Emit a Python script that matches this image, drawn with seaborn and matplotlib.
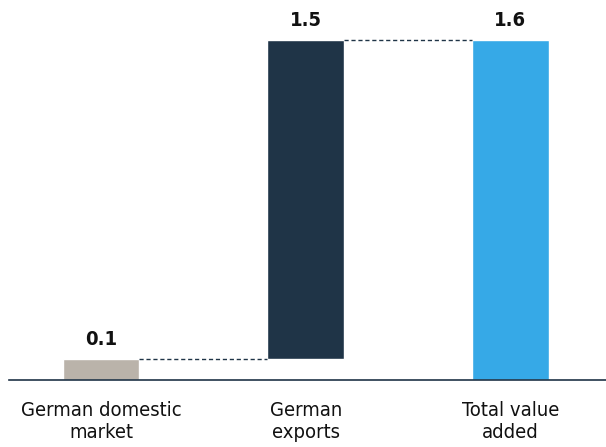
import matplotlib
matplotlib.use("Agg")
import matplotlib.pyplot as plt
import seaborn as sns
import pandas as pd

# Value-added contributions (waterfall)
categories = ["German domestic\nmarket", "German\nexports", "Total value\nadded"]
values = [0.1, 1.5, 1.6]
bases = [0.0, 0.1, 0.0]
labels = ["0.1", "1.5", "1.6"]
colors = ["#bab3aa", "#1f3447", "#36a9e7"]

sns.set_theme(style="white")
plt.rcParams["font.family"] = ["DejaVu Sans"]
plt.rcParams["font.stretch"] = "condensed"

df = pd.DataFrame({"category": categories, "value": values, "base": bases})

fig = plt.figure(figsize=(6.06, 4.47), dpi=100)
ax = fig.add_axes([0.015, 67 / 447, 0.985, 380 / 447])

# one call per bar so each can float on its own base
for i in range(len(df)):
    sns.barplot(data=df.iloc[[i]], x="category", y="value", order=categories,
                color=colors[i], saturation=1, bottom=bases[i], width=0.375, ax=ax)

ax.set_ylim(0, 1.788)
ax.set_xlim(-0.449, 2.467)
ax.set_xlabel("")
ax.set_ylabel("")
ax.set_yticks([])
for side in ["top", "right", "left"]:
    ax.spines[side].set_visible(False)
ax.spines["bottom"].set_color("#1f3447")
ax.spines["bottom"].set_linewidth(1.2)
ax.tick_params(axis="x", length=0, pad=15, labelsize=14.5, colors="#111111")
for t in ax.get_xticklabels():
    t.set_fontstretch("condensed")
    t.set_linespacing(1.22)

patches = sorted(ax.patches, key=lambda p: p.get_x())
for p, lab in zip(patches, labels):
    top = p.get_y() + p.get_height()
    ax.text(p.get_x() + p.get_width() / 2, top + 0.045, lab, ha="center", va="bottom",
            fontsize=14.5, fontweight="bold", color="#111111", fontstretch="condensed")

# connector lines between consecutive bar tops
for a, b in zip(patches[:-1], patches[1:]):
    y = a.get_y() + a.get_height()
    ax.plot([a.get_x() + a.get_width(), b.get_x()], [y, y], ls=(0, (3, 2)),
            color="#1f3447", lw=1)

fig.savefig("out.png", dpi=100)
